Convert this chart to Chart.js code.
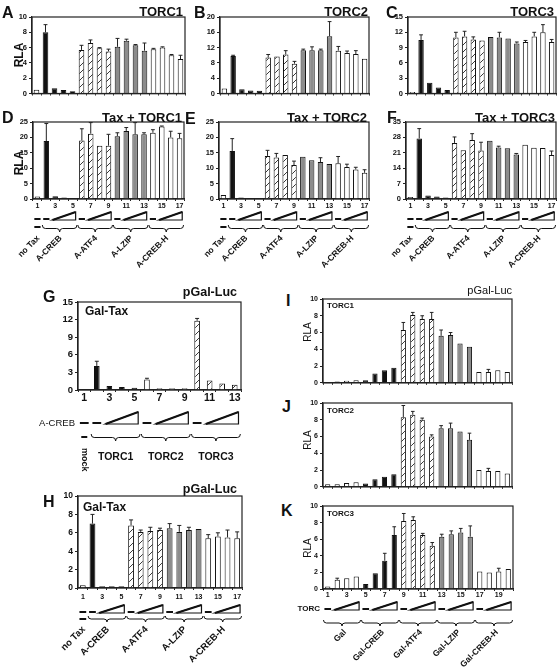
<!DOCTYPE html>
<html>
<head>
<meta charset="utf-8">
<script src="https://cdn.jsdelivr.net/npm/chart.js@4.4.0/dist/chart.umd.min.js"></script>
<style>
body{margin:0;background:#fff;width:560px;height:669px;position:relative;overflow:hidden;font-family:"Liberation Sans",Arial,sans-serif;}
canvas{position:absolute;}
.t{position:absolute;white-space:nowrap;line-height:1;color:#111;font-weight:bold;}
</style>
</head>
<body>
<script>
// lane numbers
const lanes17 = ['1','2','3','4','5','6','7','8','9','10','11','12','13','14','15','16','17'];
const lanes13 = ['1','2','3','4','5','6','7','8','9','10','11','12','13'];
const lanes20 = ['1','2','3','4','5','6','7','8','9','10','11','12','13','14','15','16','17','18','19','20'];

// bar fills: w white, k black, h hatched, g gray
const taxShades = ['w','k','k','k','k','h','h','h','h','g','g','g','g','w','w','w','w'];
const galShades = ['w','k','k','k','k','w','w','w','w','h','h','h','h'];
const torcShades = ['w','w','w','w','k','k','k','k','h','h','h','h','g','g','g','g','w','w','w','w'];

const taxGroups = ['no Tax','A-CREB','A-ATF4','A-LZIP','A-CREB-H'];
const galGroups = ['Gal','Gal-CREB','Gal-ATF4','Gal-LZIP','Gal-CREB-H'];
const torcGroups = ['TORC1','TORC2','TORC3'];

// values (RLA) and upper error bar ends
const aVals = [0.5, 8.0, 0.7, 0.45, 0.3, 5.7, 6.6, 5.9, 5.5, 6.1, 6.9, 6.3, 5.6, 5.8, 6.0, 5.0, 4.5];
const aErr  = [null, 9.0, null, null, null, 6.3, 7.0, 6.0, 5.8, 7.2, 7.1, 6.4, 6.6, 5.9, 6.1, 5.1, 5.0];
const bVals = [1.3, 9.8, 1.1, 0.8, 0.7, 9.4, 9.7, 10.2, 7.8, 11.3, 11.3, 11.3, 15.0, 11.2, 10.6, 10.3, 9.1];
const bErr  = [null, 10.0, null, null, null, 10.2, null, 11.2, 8.4, 11.6, 12.2, 11.6, 18.8, 12.3, 11.1, 11.2, null];
const cVals = [0.3, 10.5, 2.1, 1.2, 0.7, 11.0, 11.2, 10.6, 10.4, 11.1, 11.0, 10.8, 9.8, 10.1, 11.2, 12.0, 10.1];
const cErr  = [null, 11.5, null, null, null, 12.0, 12.2, 11.1, null, null, 12.0, null, 10.1, 10.4, 12.0, 13.5, 10.6];
const dVals = [0.8, 18.8, 0.9, 0.5, 0.3, 19.0, 21.2, 17.3, 17.3, 20.4, 22.1, 21.0, 21.0, 21.5, 23.5, 20.0, 19.7];
const dErr  = [null, 24.5, null, null, null, 22.8, 24.8, null, 21.0, 21.5, 23.2, 24.8, 21.5, 22.5, 23.7, 22.0, 21.3];
const eVals = [1.3, 15.6, 0.5, 0.3, 0.3, 14.0, 13.5, 14.3, 11.0, 13.7, 12.6, 12.0, 11.4, 11.6, 10.4, 9.6, 8.5];
const eErr  = [null, 19.6, null, null, null, 15.8, 14.8, null, 12.3, null, null, 13.4, null, 13.8, 11.3, 10.3, 9.5];
const fVals = [0.9, 27.5, 1.6, 1.1, 0.7, 25.5, 22.2, 26.8, 22.0, 26.5, 23.4, 23.1, 20.2, 24.7, 23.3, 23.2, 20.0];
const fErr  = [null, 32.0, null, null, null, 28.2, null, 29.7, 25.8, null, 24.0, null, 20.7, null, null, null, 21.8];
const gVals = [0.05, 4.1, 0.7, 0.5, 0.4, 1.8, 0.3, 0.3, 0.3, 11.8, 1.6, 1.1, 0.9];
const gErr  = [null, 4.9, null, null, null, 2.0, null, null, null, 12.2, null, null, null];
const hVals = [0.3, 7.0, 0.2, 0.2, 0.2, 6.8, 6.1, 6.2, 6.3, 6.5, 6.1, 6.3, 6.4, 5.4, 5.6, 5.5, 5.4];
const hErr  = [null, 8.0, null, null, null, 7.4, 6.3, 6.6, 6.5, 7.0, 6.8, 6.6, null, 5.8, 6.0, 6.3, 6.1];
const iVals = [0.1, 0.15, 0.25, 0.3, 0.3, 1.1, 1.5, 1.8, 6.3, 8.1, 7.6, 7.6, 5.6, 5.7, 4.7, 4.3, 1.3, 1.3, 1.5, 1.3];
const iErr  = [null, null, null, null, null, null, null, null, 7.2, 8.4, 8.0, 8.4, 6.3, 6.0, null, null, null, 1.6, null, null];
const jVals = [0.3, 0.3, 0.45, 0.55, 0.4, 0.9, 1.2, 1.5, 8.3, 8.6, 8.0, 6.0, 7.0, 7.0, 6.6, 5.6, 2.0, 1.9, 1.9, 1.6];
const jErr  = [null, null, null, null, null, null, null, null, 9.7, 9.0, 8.2, 6.2, 7.3, 7.6, null, 6.4, null, 2.2, null, null];
const kVals = [0.3, 1.1, 1.3, 1.5, 0.6, 1.9, 3.4, 6.5, 8.2, 8.3, 6.5, 5.2, 6.3, 6.6, 6.8, 6.3, 2.1, 2.0, 2.1, 2.4];
const kErr  = [null, 1.3, null, null, null, null, 4.3, 7.5, 9.1, 8.7, 6.7, 5.6, 6.6, 7.0, 7.3, 7.6, null, null, 2.5, null];

Chart.defaults.font.family = '"Liberation Sans", Arial, sans-serif';
Chart.defaults.color = '#111';

function makeHatch() {
  const c = document.createElement('canvas');
  c.width = 7; c.height = 7;
  const g = c.getContext('2d');
  g.fillStyle = '#fff'; g.fillRect(0, 0, 7, 7);
  g.strokeStyle = '#222'; g.lineWidth = 0.9;
  g.beginPath();
  g.moveTo(0, 7); g.lineTo(7, 0);
  g.moveTo(-1, 1); g.lineTo(1, -1);
  g.moveTo(6, 8); g.lineTo(8, 6);
  g.stroke();
  return g.createPattern(c, 'repeat');
}
const hatch = makeHatch();
function fillOf(s) {
  if (s === 'k') return '#111';
  if (s === 'g') return '#8c8c8c';
  if (s === 'h') return hatch;
  return '#fff';
}

// small drawing helpers for the lane legend under the axes
function dash(ctx, x, y, cw) {
  ctx.lineWidth = 2;
  ctx.beginPath(); ctx.moveTo(x - 0.35 * cw, y); ctx.lineTo(x + 0.35 * cw, y); ctx.stroke();
}
function wedge(ctx, x0, x1, yt, yb) {
  ctx.lineWidth = 1.2;
  ctx.beginPath(); ctx.moveTo(x0, yb); ctx.lineTo(x1, yb); ctx.lineTo(x1, yt); ctx.closePath(); ctx.stroke();
  ctx.lineWidth = 2;
  ctx.beginPath(); ctx.moveTo(x0, yb); ctx.lineTo(x1, yt); ctx.stroke();
}
function brace(ctx, x0, x1, y0, y1) {
  const xm = (x0 + x1) / 2, ym = (y0 + y1) / 2, r = 3;
  ctx.lineWidth = 1;
  ctx.beginPath();
  ctx.moveTo(x0, y0);
  ctx.quadraticCurveTo(x0, ym, x0 + r, ym);
  ctx.lineTo(xm - r, ym);
  ctx.quadraticCurveTo(xm, ym, xm, y1);
  ctx.quadraticCurveTo(xm, ym, xm + r, ym);
  ctx.lineTo(x1 - r, ym);
  ctx.quadraticCurveTo(x1, ym, x1, y0);
  ctx.stroke();
}
function rot(ctx, s, x, y, fs) {
  ctx.save();
  ctx.translate(x, y);
  ctx.rotate(-Math.PI / 4);
  ctx.font = 'bold ' + fs + 'px "Liberation Sans", Arial, sans-serif';
  ctx.textAlign = 'right'; ctx.textBaseline = 'middle';
  ctx.fillText(s, 0, 0);
  ctx.restore();
}

function annTax(ctx, ch, p) {
  const xs = ch.scales.x, b = ch.chartArea.bottom, o = p.off;
  const cw = xs.width / p.labels.length;
  const cx = i => xs.getPixelForValue(i);
  dash(ctx, cx(0), b + o.d1, cw);
  [1, 5, 9, 13].forEach(s => {
    dash(ctx, cx(s), b + o.d1, cw);
    wedge(ctx, cx(s + 1) - 0.3 * cw, cx(s + 3) + 0.3 * cw, b + o.tt, b + o.tb);
  });
  dash(ctx, cx(0), b + o.d2, cw);
  [1, 5, 9, 13].forEach(s => brace(ctx, cx(s) - 0.45 * cw, cx(s + 3) + 0.45 * cw, b + o.bt, b + o.bb));
  rot(ctx, taxGroups[0], cx(0) + 1, b + o.lab, p.lfs);
  [1, 5, 9, 13].forEach((s, k) => rot(ctx, taxGroups[k + 1], (cx(s) + cx(s + 3)) / 2 + 1, b + o.lab, p.lfs));
}

function annGal(ctx, ch, p) {
  const xs = ch.scales.x, b = ch.chartArea.bottom, o = p.off;
  const cw = xs.width / p.labels.length;
  const cx = i => xs.getPixelForValue(i);
  ctx.font = '9.5px "Liberation Sans", Arial, sans-serif';
  ctx.textAlign = 'right'; ctx.textBaseline = 'middle';
  ctx.fillText('A-CREB', cx(0) - 0.5 * cw - 3, b + o.d1);
  dash(ctx, cx(0), b + o.d1, cw);
  [1, 5, 9].forEach(s => {
    dash(ctx, cx(s), b + o.d1, cw);
    wedge(ctx, cx(s + 1) - 0.3 * cw, cx(s + 3) + 0.3 * cw, b + o.tt, b + o.tb);
  });
  ctx.lineWidth = 2;
  ctx.beginPath(); ctx.moveTo(cx(0) - 3, b + o.d2); ctx.lineTo(cx(0) + 3, b + o.d2); ctx.stroke();
  [1, 5, 9].forEach(s => brace(ctx, cx(s) - 0.45 * cw, cx(s + 3) + 0.45 * cw, b + o.bt, b + o.bb));
  ctx.font = 'bold 10.5px "Liberation Sans", Arial, sans-serif';
  ctx.textAlign = 'center';
  [1, 5, 9].forEach((s, k) => ctx.fillText(torcGroups[k], (cx(s) + cx(s + 3)) / 2, b + o.lab));
  ctx.save();
  ctx.translate(cx(0), b + o.mock);
  ctx.rotate(Math.PI / 2);
  ctx.font = 'bold 9px "Liberation Sans", Arial, sans-serif';
  ctx.textAlign = 'left';
  ctx.fillText('mock', 0, 0);
  ctx.restore();
}

function annTorc(ctx, ch, p) {
  const xs = ch.scales.x, b = ch.chartArea.bottom, o = p.off;
  const cw = xs.width / p.labels.length;
  const cx = i => xs.getPixelForValue(i);
  ctx.font = 'bold 8px "Liberation Sans", Arial, sans-serif';
  ctx.textAlign = 'right'; ctx.textBaseline = 'middle';
  ctx.fillText('TORC', cx(0) - 0.5 * cw - 3, b + o.d1);
  [0, 4, 8, 12, 16].forEach((s, k) => {
    dash(ctx, cx(s), b + o.d1, cw);
    wedge(ctx, cx(s + 1) - 0.3 * cw, cx(s + 3) + 0.3 * cw, b + o.tt, b + o.tb);
    brace(ctx, cx(s) - 0.45 * cw, cx(s + 3) + 0.45 * cw, b + o.bt, b + o.bb);
    rot(ctx, galGroups[k], (cx(s) + cx(s + 3)) / 2 + 3, b + o.lab, p.lfs);
  });
}

function makeChart(p) {
  const cv = document.createElement('canvas');
  const cl = p.l - p.wy, ct = p.t - p.pt;
  const cw = p.r - cl + p.pr, chh = p.h;
  cv.width = cw; cv.height = chh;
  cv.style.left = cl + 'px'; cv.style.top = ct + 'px';
  document.body.appendChild(cv);
  const bottomPad = chh - (p.b - ct) - p.hx;

  const extras = {
    id: 'extras',
    afterDraw(chart) {
      const ctx = chart.ctx, a = chart.chartArea;
      ctx.save();
      ctx.strokeStyle = '#222'; ctx.fillStyle = '#111';
      // error bars
      const bars = chart.getDatasetMeta(0).data;
      ctx.lineWidth = 1;
      p.err.forEach((e, i) => {
        if (e === null) return;
        const bar = bars[i];
        const y = chart.scales.y.getPixelForValue(e);
        const hw = bar.width * 0.35;
        ctx.beginPath();
        ctx.moveTo(bar.x, bar.y); ctx.lineTo(bar.x, y);
        ctx.moveTo(bar.x - hw, y); ctx.lineTo(bar.x + hw, y);
        ctx.stroke();
      });
      // frame
      ctx.lineWidth = 1.2;
      ctx.strokeRect(a.left, a.top, a.right - a.left, a.bottom - a.top);
      ctx.strokeStyle = '#111';
      if (p.ann) p.ann(ctx, chart, p);
      ctx.restore();
    }
  };

  new Chart(cv, {
    type: 'bar',
    data: {
      labels: p.labels,
      datasets: [{
        data: p.vals,
        backgroundColor: p.shades.map(fillOf),
        borderColor: '#111',
        borderWidth: 1,
        categoryPercentage: p.cat,
        barPercentage: 1
      }]
    },
    options: {
      responsive: false,
      animation: false,
      devicePixelRatio: 1,
      layout: { padding: { left: 0, right: p.pr, top: p.pt, bottom: bottomPad } },
      plugins: { legend: { display: false }, tooltip: { enabled: false } },
      scales: {
        x: {
          grid: { drawOnChartArea: false, tickLength: 2, color: '#222' },
          border: { color: '#222', width: 1.2 },
          ticks: {
            display: p.xlab, autoSkip: false, maxRotation: 0, minRotation: 0,
            padding: p.xpad, color: '#111',
            font: { size: p.xfs, weight: 'bold' },
            callback: (v, i) => (i % 2 === 0 ? p.labels[i] : '')
          },
          afterFit: s => { s.height = p.hx; }
        },
        y: {
          min: 0, max: p.ymax,
          ticks: { stepSize: p.step, color: '#111', padding: 2, font: { size: p.yfs, weight: 'bold' } },
          grid: { drawOnChartArea: false, tickLength: 3, color: '#222' },
          border: { color: '#222', width: 1.2 },
          afterFit: s => { s.width = p.wy; }
        }
      }
    },
    plugins: [extras]
  });
}

const taxOffD = { tt: 13, tb: 21, d1: 20, d2: 28, bt: 26, bb: 33, lab: 38 };
const taxOffH = { tt: 17, tb: 25, d1: 24, d2: 31, bt: 28, bb: 34, lab: 40 };

const panels = [
  { l: 32, t: 17, r: 185, b: 95, wy: 26, pt: 10, pr: 3, h: 93, hx: 4, xlab: false, xfs: 7, xpad: 1, yfs: 7.5, ymax: 10, step: 2, cat: 0.62, labels: lanes17, vals: aVals, err: aErr, shades: taxShades },
  { l: 220, t: 17, r: 369, b: 95, wy: 26, pt: 10, pr: 3, h: 93, hx: 4, xlab: false, xfs: 7, xpad: 1, yfs: 7.5, ymax: 20, step: 4, cat: 0.62, labels: lanes17, vals: bVals, err: bErr, shades: taxShades },
  { l: 408, t: 17, r: 556, b: 95, wy: 26, pt: 10, pr: 3, h: 93, hx: 4, xlab: false, xfs: 7, xpad: 1, yfs: 7.5, ymax: 15, step: 3, cat: 0.62, labels: lanes17, vals: cVals, err: cErr, shades: taxShades },
  { l: 33, t: 122, r: 184, b: 199, wy: 28, pt: 8, pr: 3, h: 171, hx: 10, xlab: true, xfs: 7, xpad: 1, yfs: 7.5, ymax: 25, step: 5, cat: 0.62, labels: lanes17, vals: dVals, err: dErr, shades: taxShades, ann: annTax, off: taxOffD, lfs: 8.5 },
  { l: 219, t: 122, r: 369, b: 199, wy: 28, pt: 8, pr: 3, h: 171, hx: 10, xlab: true, xfs: 7, xpad: 1, yfs: 7.5, ymax: 25, step: 5, cat: 0.62, labels: lanes17, vals: eVals, err: eErr, shades: taxShades, ann: annTax, off: taxOffD, lfs: 8.5 },
  { l: 406, t: 122, r: 556, b: 199, wy: 28, pt: 8, pr: 3, h: 171, hx: 10, xlab: true, xfs: 7, xpad: 1, yfs: 7.5, ymax: 35, step: 7, cat: 0.62, labels: lanes17, vals: fVals, err: fErr, shades: taxShades, ann: annTax, off: taxOffD, lfs: 8.5 },
  { l: 78, t: 302, r: 241, b: 390, wy: 45, pt: 8, pr: 3, h: 186, hx: 12, xlab: true, xfs: 10.5, xpad: 0, yfs: 9.5, ymax: 15, step: 3, cat: 0.45, labels: lanes13, vals: gVals, err: gErr, shades: galShades, ann: annGal, off: { tt: 22, tb: 34, d1: 33, d2: 47, bt: 44, bb: 51, lab: 67, mock: 58 } },
  { l: 78, t: 496, r: 242, b: 588, wy: 30, pt: 8, pr: 3, h: 181, hx: 12, xlab: true, xfs: 7, xpad: 3, yfs: 8.5, ymax: 10, step: 2, cat: 0.6, labels: lanes17, vals: hVals, err: hErr, shades: taxShades, ann: annTax, off: taxOffH, lfs: 9.5 },
  { l: 323, t: 299, r: 512, b: 383, wy: 22, pt: 8, pr: 3, h: 98, hx: 3, xlab: false, xfs: 7, xpad: 1, yfs: 7, ymax: 10, step: 2, cat: 0.55, labels: lanes20, vals: iVals, err: iErr, shades: torcShades },
  { l: 323, t: 403, r: 512, b: 487, wy: 22, pt: 8, pr: 3, h: 98, hx: 3, xlab: false, xfs: 7, xpad: 1, yfs: 7, ymax: 10, step: 2, cat: 0.55, labels: lanes20, vals: jVals, err: jErr, shades: torcShades },
  { l: 323, t: 506, r: 513, b: 589, wy: 30, pt: 8, pr: 3, h: 171, hx: 9, xlab: true, xfs: 7, xpad: 0, yfs: 7, ymax: 10, step: 2, cat: 0.55, labels: lanes20, vals: kVals, err: kErr, shades: torcShades, ann: annTorc, off: { tt: 13, tb: 21, d1: 20, bt: 31, bb: 37, lab: 42 }, lfs: 8.5 }
];
panels.forEach(makeChart);

// letters, titles and axis names as page text
function txt(s, x, y, size, align, weight, rotate) {
  const d = document.createElement('div');
  d.className = 't';
  d.textContent = s;
  d.style.fontSize = size + 'px';
  if (weight) d.style.fontWeight = weight;
  d.style.left = x + 'px';
  d.style.top = y + 'px';
  let tf = align === 'r' ? 'translate(-100%,-50%)' : align === 'c' ? 'translate(-50%,-50%)' : 'translate(0,-50%)';
  if (rotate) tf = 'translate(-50%,-50%) rotate(-90deg)';
  d.style.transform = tf;
  document.body.appendChild(d);
}
[['A', 2, 13], ['B', 194, 13], ['C', 386, 13], ['D', 2, 118], ['E', 185, 119], ['F', 387, 118],
 ['G', 43, 297], ['H', 43, 502], ['I', 286, 301], ['J', 282, 407], ['K', 281, 511]]
  .forEach(a => txt(a[0], a[1], a[2], 16, 'l'));
txt('TORC1', 183, 11, 13, 'r');
txt('TORC2', 368, 11, 13, 'r');
txt('TORC3', 554, 11, 13, 'r');
txt('Tax + TORC1', 182, 117, 13, 'r');
txt('Tax + TORC2', 367, 117, 13, 'r');
txt('Tax  + TORC3', 555, 117, 13, 'r');
txt('pGal-Luc', 237, 292, 12.5, 'r');
txt('pGal-Luc', 237, 489, 12.5, 'r');
txt('pGal-Luc', 512, 290, 11, 'r', 'normal');
txt('Gal-Tax', 85, 311, 12, 'l');
txt('Gal-Tax', 83, 507, 12, 'l');
txt('TORC1', 327, 306, 8, 'l');
txt('TORC2', 327, 411, 8, 'l');
txt('TORC3', 327, 514, 8, 'l');
txt('RLA', 19, 55, 12, 'c', null, true);
txt('RLA', 19, 163, 12, 'c', null, true);
txt('RLA', 308, 332, 10, 'c', 'normal', true);
txt('RLA', 308, 440, 10, 'c', 'normal', true);
txt('RLA', 308, 548, 10, 'c', 'normal', true);
</script>
</body>
</html>
